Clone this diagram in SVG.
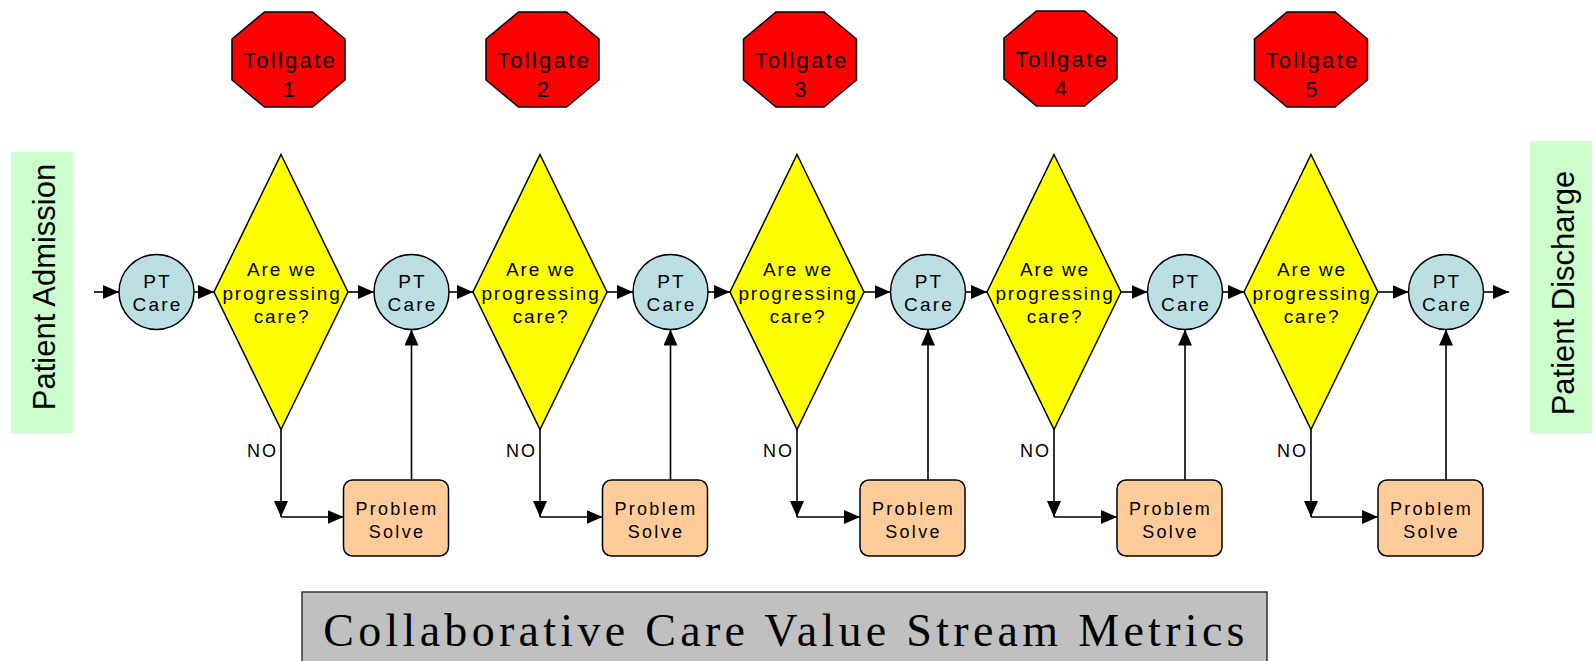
<svg xmlns="http://www.w3.org/2000/svg" xmlns:xlink="http://www.w3.org/1999/xlink" width="1595" height="661" viewBox="0 0 1595 661">
  <style>
    .lbl { font-family: "Liberation Sans", Arial, sans-serif; font-size: 19px; letter-spacing: 1.8px; fill: #000; text-anchor: middle; }
    .gate { font-size: 22px; letter-spacing: 2.3px; }
    .pt { font-size: 19px; letter-spacing: 2.2px; }
    .box { font-size: 18px; letter-spacing: 2.3px; }
    .no { font-size: 18px; letter-spacing: 2px; }
    .side { font-family: "Liberation Sans", Arial, sans-serif; font-size: 31px; fill: #000; text-anchor: middle; }
    .title { font-family: "Liberation Serif", "Times New Roman", serif; font-size: 46px; letter-spacing: 4.3px; fill: #000; text-anchor: middle; }
    .stop { fill: #FF0000; stroke: #000; stroke-width: 1.5; }
    .decision { fill: #FFFF00; stroke: #000; stroke-width: 1.5; }
    .care { fill: #BBDFE3; stroke: #000; stroke-width: 1.5; }
    .solve { fill: #FFCC99; stroke: #000; stroke-width: 1.5; }
    .endpoint { fill: #CCFFCC; }
    .conn path { fill: none; stroke: #000; stroke-width: 1.6; marker-end: url(#arrow); }
  </style>
  <defs>
    <marker id="arrow" viewBox="0 0 16 14" refX="16" refY="7" markerWidth="16" markerHeight="14" markerUnits="userSpaceOnUse" orient="auto">
      <path d="M0,0 L16,7 L0,14 z" fill="#000"/>
    </marker>
    <polygon id="octagon" class="stop" points="-24,-47.5 24,-47.5 56.5,-20.5 56.5,20.5 24,47.5 -24,47.5 -56.5,20.5 -56.5,-20.5"/>
    <polygon id="diamond" class="decision" points="0,-137.5 67,0 0,137.5 -67,0"/>
  </defs>

  <!-- start / end markers -->
  <g id="admission">
    <rect class="endpoint" x="11" y="152" width="62" height="281"/>
    <text class="side" transform="translate(55,287) rotate(-90)">Patient Admission</text>
  </g>
  <g id="discharge">
    <rect class="endpoint" x="1530" y="141" width="62" height="292"/>
    <text class="side" transform="translate(1574,293) rotate(-90)">Patient Discharge</text>
  </g>

  <!-- tollgates -->
  <g id="tollgate1">
    <use xlink:href="#octagon" x="288.5" y="59.5"/>
    <text class="lbl gate" x="290" y="68">Tollgate</text>
    <text class="lbl gate" x="290" y="97">1</text>
  </g>
  <g id="tollgate2">
    <use xlink:href="#octagon" x="542.5" y="59.5"/>
    <text class="lbl gate" x="544" y="68">Tollgate</text>
    <text class="lbl gate" x="544" y="97">2</text>
  </g>
  <g id="tollgate3">
    <use xlink:href="#octagon" x="800" y="59.5"/>
    <text class="lbl gate" x="801.5" y="68">Tollgate</text>
    <text class="lbl gate" x="801.5" y="97">3</text>
  </g>
  <g id="tollgate4">
    <use xlink:href="#octagon" x="1060.5" y="58.5"/>
    <text class="lbl gate" x="1062" y="67">Tollgate</text>
    <text class="lbl gate" x="1062" y="96">4</text>
  </g>
  <g id="tollgate5">
    <use xlink:href="#octagon" x="1311" y="59.5"/>
    <text class="lbl gate" x="1312.5" y="68">Tollgate</text>
    <text class="lbl gate" x="1312.5" y="97">5</text>
  </g>

  <!-- care steps -->
  <g id="care0">
    <circle class="care" cx="156.5" cy="292" r="37.5"/>
    <text class="lbl pt" x="157.5" y="288">PT</text>
    <text class="lbl pt" x="157.5" y="311">Care</text>
  </g>
  <g id="care1">
    <circle class="care" cx="411.5" cy="292" r="37.5"/>
    <text class="lbl pt" x="412.5" y="288">PT</text>
    <text class="lbl pt" x="412.5" y="311">Care</text>
  </g>
  <g id="care2">
    <circle class="care" cx="670.5" cy="292" r="37.5"/>
    <text class="lbl pt" x="671.5" y="288">PT</text>
    <text class="lbl pt" x="671.5" y="311">Care</text>
  </g>
  <g id="care3">
    <circle class="care" cx="928" cy="292" r="37.5"/>
    <text class="lbl pt" x="929" y="288">PT</text>
    <text class="lbl pt" x="929" y="311">Care</text>
  </g>
  <g id="care4">
    <circle class="care" cx="1185" cy="292" r="37.5"/>
    <text class="lbl pt" x="1186" y="288">PT</text>
    <text class="lbl pt" x="1186" y="311">Care</text>
  </g>
  <g id="care5">
    <circle class="care" cx="1446" cy="292" r="37.5"/>
    <text class="lbl pt" x="1447" y="288">PT</text>
    <text class="lbl pt" x="1447" y="311">Care</text>
  </g>

  <!-- decisions -->
  <g id="decision1">
    <use xlink:href="#diamond" x="281" y="292"/>
    <text class="lbl" x="282" y="276">Are we</text>
    <text class="lbl" x="282" y="300">progressing</text>
    <text class="lbl" x="282" y="323">care?</text>
  </g>
  <g id="decision2">
    <use xlink:href="#diamond" x="540" y="292"/>
    <text class="lbl" x="541" y="276">Are we</text>
    <text class="lbl" x="541" y="300">progressing</text>
    <text class="lbl" x="541" y="323">care?</text>
  </g>
  <g id="decision3">
    <use xlink:href="#diamond" x="797" y="292"/>
    <text class="lbl" x="798" y="276">Are we</text>
    <text class="lbl" x="798" y="300">progressing</text>
    <text class="lbl" x="798" y="323">care?</text>
  </g>
  <g id="decision4">
    <use xlink:href="#diamond" x="1054" y="292"/>
    <text class="lbl" x="1055" y="276">Are we</text>
    <text class="lbl" x="1055" y="300">progressing</text>
    <text class="lbl" x="1055" y="323">care?</text>
  </g>
  <g id="decision5">
    <use xlink:href="#diamond" x="1311" y="292"/>
    <text class="lbl" x="1312" y="276">Are we</text>
    <text class="lbl" x="1312" y="300">progressing</text>
    <text class="lbl" x="1312" y="323">care?</text>
  </g>

  <!-- problem solving boxes -->
  <g id="solve1">
    <rect class="solve" x="343.5" y="480" width="105" height="76" rx="9"/>
    <text class="lbl box" x="397" y="515">Problem</text>
    <text class="lbl box" x="397" y="538">Solve</text>
  </g>
  <g id="solve2">
    <rect class="solve" x="602.5" y="480" width="105" height="76" rx="9"/>
    <text class="lbl box" x="656" y="515">Problem</text>
    <text class="lbl box" x="656" y="538">Solve</text>
  </g>
  <g id="solve3">
    <rect class="solve" x="860" y="480" width="105" height="76" rx="9"/>
    <text class="lbl box" x="913.5" y="515">Problem</text>
    <text class="lbl box" x="913.5" y="538">Solve</text>
  </g>
  <g id="solve4">
    <rect class="solve" x="1117" y="480" width="105" height="76" rx="9"/>
    <text class="lbl box" x="1170.5" y="515">Problem</text>
    <text class="lbl box" x="1170.5" y="538">Solve</text>
  </g>
  <g id="solve5">
    <rect class="solve" x="1378" y="480" width="105" height="76" rx="9"/>
    <text class="lbl box" x="1431.5" y="515">Problem</text>
    <text class="lbl box" x="1431.5" y="538">Solve</text>
  </g>

  <!-- connectors -->
  <g id="connectors" class="conn">
    <path d="M94,292 H119"/>
    <path d="M194,292 H214"/>
    <path d="M348,292 H374"/>
    <path d="M449,292 H473"/>
    <path d="M607,292 H633"/>
    <path d="M708,292 H730"/>
    <path d="M864,292 H890.5"/>
    <path d="M965.5,292 H987"/>
    <path d="M1121,292 H1147.5"/>
    <path d="M1222.5,292 H1244"/>
    <path d="M1378,292 H1408.5"/>
    <path d="M1483.5,292 H1509"/>

    <path d="M281,429.5 V517"/>
    <path d="M281,517 H343.5"/>
    <path d="M411.5,480 V329.5"/>

    <path d="M540,429.5 V517"/>
    <path d="M540,517 H602.5"/>
    <path d="M670.5,480 V329.5"/>

    <path d="M797,429.5 V517"/>
    <path d="M797,517 H860"/>
    <path d="M928,480 V329.5"/>

    <path d="M1054,429.5 V517"/>
    <path d="M1054,517 H1117"/>
    <path d="M1185,480 V329.5"/>

    <path d="M1311,429.5 V517"/>
    <path d="M1311,517 H1378"/>
    <path d="M1446,480 V329.5"/>
  </g>

  <!-- NO branch labels -->
  <g id="no-labels">
    <text class="lbl no" x="262.5" y="457">NO</text>
    <text class="lbl no" x="521.5" y="457">NO</text>
    <text class="lbl no" x="778.5" y="457">NO</text>
    <text class="lbl no" x="1035.5" y="457">NO</text>
    <text class="lbl no" x="1292.5" y="457">NO</text>
  </g>

  <!-- title banner -->
  <g id="title">
    <rect x="302" y="592" width="965" height="80" fill="#C0C0C0" stroke="#333" stroke-width="1.5"/>
    <text class="title" x="786" y="646">Collaborative Care Value Stream Metrics</text>
  </g>
</svg>
